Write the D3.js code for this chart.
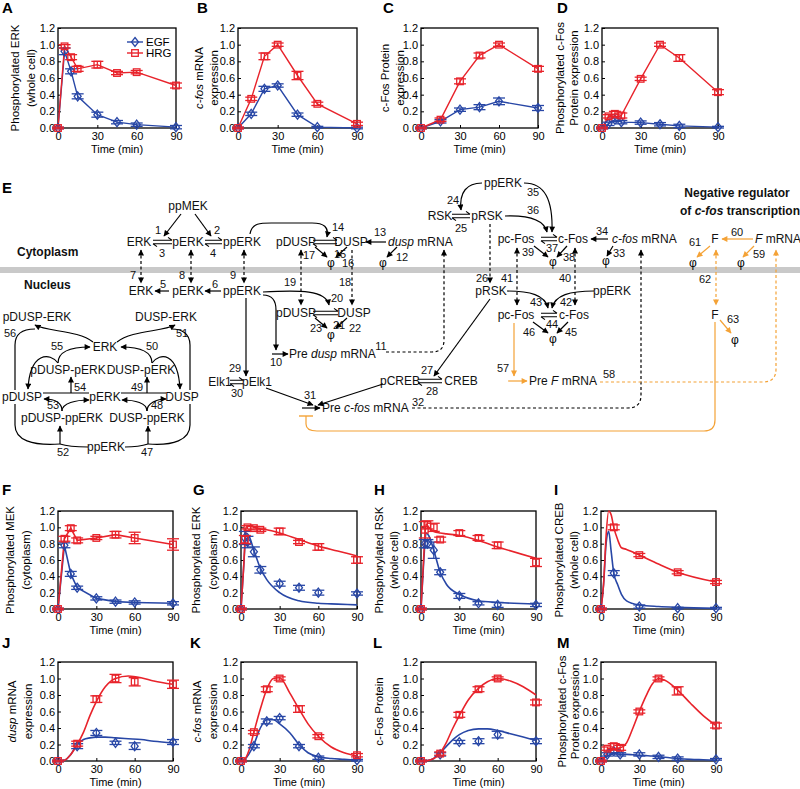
<!DOCTYPE html>
<html><head><meta charset="utf-8">
<script src="https://cdn.jsdelivr.net/npm/d3@7"></script>
<style>body{margin:0;background:#fff} svg{display:block} text{font-family:"Liberation Sans",Arial,sans-serif}</style>
</head><body><svg id="c" width="800" height="789"></svg>
<script>
// ---------------- DATA ----------------
const seriesNames = ["EGF","HRG"];
const yTickValues = [0,0.2,0.4,0.6,0.8,1.0,1.2];
const xTickValues = [0,30,60,90];

// A: phosphorylated ERK (whole cell)
const timeA = [0,5,10,15,30,45,60,90];
const egfA = [0,0.92,0.68,0.38,0.16,0.07,0.04,0.01];
const hrgA = [0,0.98,0.85,0.71,0.76,0.66,0.67,0.51];
const egfErrA = [0.01,0.04,0.03,0.03,0.03,0.02,0.02,0.02];
const hrgErrA = [0.01,0.02,0.03,0.03,0.04,0.02,0.02,0.03];
// B: c-fos mRNA
const timeB = [0,10,20,30,45,60,90];
const egfB = [0,0.17,0.47,0.51,0.16,0.01,0.0];
const hrgB = [0,0.35,0.86,1.0,0.63,0.29,0.05];
const egfErrB = [0.01,0.02,0.03,0.02,0.02,0.01,0.01];
const hrgErrB = [0.01,0.02,0.04,0.02,0.05,0.02,0.02];
// C: c-Fos protein
const timeC = [0,15,30,45,60,90];
const egfC = [0,0.08,0.22,0.25,0.32,0.24];
const hrgC = [0,0.10,0.56,0.87,1.0,0.71];
const egfErrC = [0.01,0.02,0.02,0.03,0.04,0.03];
const hrgErrC = [0.01,0.02,0.03,0.03,0.02,0.03];
// D: phosphorylated c-Fos
const timeD = [0,5,10,15,30,45,60,90];
const egfD = [0,0.05,0.10,0.07,0.065,0.045,0.025,0.01];
const hrgD = [0,0.14,0.17,0.15,0.59,1.0,0.84,0.43];
const egfErrD = [0.01,0.02,0.02,0.02,0.02,0.02,0.02,0.01];
const hrgErrD = [0.01,0.02,0.03,0.03,0.02,0.02,0.04,0.03];

// F: phosphorylated MEK (cytoplasm)
const timeF = [0,5,10,15,30,45,60,90];
const egfF = [0,0.78,0.43,0.26,0.13,0.09,0.08,0.07];
const hrgF = [0,0.86,0.99,0.84,0.87,0.91,0.87,0.79];
const egfErrF = [0.01,0.03,0.03,0.02,0.02,0.02,0.02,0.02];
const hrgErrF = [0.01,0.03,0.03,0.03,0.02,0.04,0.07,0.07];
const fitTimeF = [0,5,10,15,30,45,60,90];
const egfFitF = [0,0.78,0.43,0.26,0.13,0.09,0.08,0.07];
const hrgFitF = [0,0.86,0.99,0.84,0.87,0.91,0.87,0.79];
// G: phosphorylated ERK (cytoplasm)
const timeG = [0,3,5,10,15,30,45,60,90];
const egfG = [0,0.87,0.82,0.70,0.48,0.31,0.26,0.20,0.19];
const hrgG = [0,0.85,1.0,0.99,0.97,0.95,0.82,0.76,0.60];
const egfErrG = [0.01,0.08,0.07,0.06,0.04,0.03,0.03,0.03,0.02];
const hrgErrG = [0.01,0.05,0.02,0.02,0.02,0.04,0.02,0.04,0.04];
const fitTimeG = [0,2,4,6,10,15,20,30,45,60,75,90];
const egfFitG = [0,0.5,0.93,0.9,0.72,0.5,0.36,0.2,0.1,0.07,0.06,0.05];
const hrgFitG = [0,0.5,1.0,1.02,1.0,0.98,0.97,0.93,0.85,0.77,0.71,0.65];
// H: phosphorylated RSK (whole cell)
const timeH = [0,3,5,10,15,30,45,60,90];
const egfH = [0,0.80,0.80,0.72,0.45,0.16,0.07,0.05,0.05];
const hrgH = [0,0.97,1.03,1.0,0.85,0.93,0.87,0.78,0.57];
const egfErrH = [0.01,0.05,0.05,0.1,0.03,0.03,0.02,0.03,0.02];
const hrgErrH = [0.01,0.1,0.05,0.05,0.03,0.03,0.03,0.04,0.05];
const fitTimeH = [0,2,4,6,10,15,20,30,45,60,90];
const egfFitH = [0,0.55,0.93,0.9,0.72,0.45,0.3,0.18,0.1,0.08,0.06];
const hrgFitH = [0,0.6,1.04,1.0,0.95,0.93,0.92,0.9,0.84,0.76,0.62];
// I: phosphorylated CREB (whole cell)
const timeI = [0,10,30,60,90];
const egfI = [0,0.44,0.03,0.01,0.01];
const hrgI = [0,1.0,0.66,0.45,0.33];
const egfErrI = [0.01,0.03,0.02,0.01,0.01];
const hrgErrI = [0.01,0.03,0.02,0.02,0.02];
const fitTimeI = [0,2,4,6,8,10,13,16,20,30,45,60,90];
const egfFitI = [0,0.3,0.8,0.95,0.7,0.44,0.3,0.18,0.1,0.05,0.03,0.02,0.01];
const hrgFitI = [0,0.3,0.9,1.2,1.15,1.0,0.85,0.75,0.73,0.66,0.55,0.45,0.33];
// J: dusp mRNA
const timeJ = [0,15,30,45,60,90];
const egfJ = [0,0.18,0.34,0.22,0.18,0.23];
const hrgJ = [0,0.21,0.75,1.0,0.96,0.93];
const egfErrJ = [0.01,0.03,0.03,0.02,0.04,0.03];
const hrgErrJ = [0.01,0.03,0.04,0.05,0.05,0.05];
const fitTimeJ = [0,5,10,15,20,25,30,37,45,55,65,75,90];
const egfFitJ = [0,0.01,0.08,0.2,0.26,0.28,0.29,0.29,0.28,0.27,0.26,0.24,0.22];
const hrgFitJ = [0,0.01,0.08,0.2,0.35,0.55,0.72,0.9,1.0,1.03,1.01,0.97,0.93];
// K: c-fos mRNA
const timeK = [0,10,20,30,45,60,90];
const egfK = [0,0.18,0.48,0.52,0.18,0.04,0.01];
const hrgK = [0,0.35,0.87,1.0,0.63,0.30,0.07];
const egfErrK = [0.01,0.02,0.03,0.02,0.02,0.02,0.01];
const hrgErrK = [0.01,0.02,0.03,0.02,0.04,0.02,0.02];
const fitTimeK = [0,3,6,10,15,20,25,30,38,45,52,60,70,80,90];
const egfFitK = [0,0.02,0.08,0.2,0.4,0.5,0.5,0.45,0.34,0.2,0.1,0.05,0.03,0.02,0.01];
const hrgFitK = [0,0.02,0.12,0.35,0.63,0.87,1.0,1.01,0.82,0.63,0.45,0.3,0.17,0.1,0.06];
// L: c-Fos protein
const timeL = [0,15,30,45,60,90];
const egfL = [0,0.08,0.23,0.24,0.32,0.24];
const hrgL = [0,0.09,0.56,0.87,1.0,0.71];
const egfErrL = [0.01,0.02,0.02,0.03,0.04,0.03];
const hrgErrL = [0.01,0.02,0.03,0.03,0.02,0.03];
const fitTimeL = [0,5,10,15,20,25,30,37,45,52,60,70,80,90];
const egfFitL = [0,0.005,0.03,0.1,0.18,0.26,0.32,0.37,0.39,0.39,0.37,0.33,0.29,0.25];
const hrgFitL = [0,0.005,0.03,0.1,0.23,0.4,0.55,0.74,0.88,0.96,1.0,0.97,0.9,0.8];
// M: phosphorylated c-Fos
const timeM = [0,5,10,15,30,45,60,90];
const egfM = [0,0.08,0.12,0.08,0.08,0.05,0.03,0.02];
const hrgM = [0,0.15,0.18,0.16,0.60,1.0,0.85,0.43];
const egfErrM = [0.01,0.02,0.02,0.02,0.02,0.02,0.02,0.01];
const hrgErrM = [0.01,0.02,0.03,0.03,0.02,0.02,0.05,0.03];
const fitTimeM = [0,3,6,10,15,20,25,30,35,40,45,50,60,70,80,90];
const egfFitM = [0,0.04,0.07,0.09,0.08,0.08,0.075,0.07,0.065,0.06,0.05,0.045,0.03,0.02,0.015,0.01];
const hrgFitM = [0,0.05,0.12,0.15,0.16,0.22,0.4,0.6,0.78,0.93,1.0,0.98,0.86,0.7,0.55,0.43];

// ---------------- STYLE ----------------
const BLUE = "#2847a6", RED = "#e8232b", ORANGE = "#f4a236";
const svg = d3.select("#c");
const defs = svg.append("defs");
function mk(id, col) {
  defs.append("marker").attr("id", id).attr("viewBox", "0 0 10 10").attr("refX", 9).attr("refY", 5)
    .attr("markerUnits", "userSpaceOnUse").attr("markerWidth", 7).attr("markerHeight", 6)
    .attr("orient", "auto-start-reverse")
    .append("path").attr("d", "M0,0 L10,5 L0,10 z").attr("fill", col);
}
mk("ah", "#000"); mk("ao", ORANGE);

function seg(sel, parts) {
  if (typeof parts === "string") { sel.text(parts); return; }
  parts.forEach(p => sel.append("tspan").attr("font-style", p.i ? "italic" : null).text(p.t));
}

// ---------------- PANELS ----------------
const panels = [
  {L:"A",lx:2,ly:13,x0:58,x1:176,y0:28,y1:128,yl:["Phosphorylated ERK","(whole cell)"],ylx:[15,31],t:timeA,e:egfA,h:hrgA,ee:egfErrA,he:hrgErrA,legend:true},
  {L:"B",lx:197,ly:13,x0:238,x1:357,y0:28,y1:128,yl:[[{t:"c-fos",i:1},{t:" mRNA"}],"expression"],ylx:[199,214],t:timeB,e:egfB,h:hrgB,ee:egfErrB,he:hrgErrB},
  {L:"C",lx:383,ly:13,x0:421,x1:538,y0:28,y1:128,yl:["c-Fos Protein","expression"],ylx:[385,400],t:timeC,e:egfC,h:hrgC,ee:egfErrC,he:hrgErrC},
  {L:"D",lx:557,ly:13,x0:602,x1:718,y0:28,y1:128,yl:["Phosphorylated c-Fos","Protein expression"],ylx:[560,574],t:timeD,e:egfD,h:hrgD,ee:egfErrD,he:hrgErrD},
  {L:"F",lx:2,ly:495,x0:58,x1:173,y0:511,y1:609,yl:["Phosphorylated MEK","(cytoplasm)"],ylx:[10,26],t:timeF,e:egfF,h:hrgF,ee:egfErrF,he:hrgErrF,ft:fitTimeF,fe:egfFitF,fh:hrgFitF,lin:true},
  {L:"G",lx:193,ly:495,x0:241,x1:357,y0:511,y1:609,yl:["Phosphorylated ERK","(cytoplasm)"],ylx:[196,213],t:timeG,e:egfG,h:hrgG,ee:egfErrG,he:hrgErrG,ft:fitTimeG,fe:egfFitG,fh:hrgFitG},
  {L:"H",lx:374,ly:495,x0:421,x1:536,y0:511,y1:609,yl:["Phosphorylated RSK","(whole cell)"],ylx:[379,394],t:timeH,e:egfH,h:hrgH,ee:egfErrH,he:hrgErrH,ft:fitTimeH,fe:egfFitH,fh:hrgFitH},
  {L:"I",lx:554,ly:495,x0:601,x1:716,y0:511,y1:609,yl:["Phosphorylated CREB","(whole cell)"],ylx:[559,574],t:timeI,e:egfI,h:hrgI,ee:egfErrI,he:hrgErrI,ft:fitTimeI,fe:egfFitI,fh:hrgFitI},
  {L:"J",lx:2,ly:648,x0:58,x1:173,y0:662,y1:761,yl:[[{t:"dusp",i:1},{t:" mRNA"}],"expression"],ylx:[12,28],t:timeJ,e:egfJ,h:hrgJ,ee:egfErrJ,he:hrgErrJ,ft:fitTimeJ,fe:egfFitJ,fh:hrgFitJ},
  {L:"K",lx:190,ly:648,x0:241,x1:357,y0:662,y1:761,yl:[[{t:"c-fos",i:1},{t:" mRNA"}],"expression"],ylx:[197,213],t:timeK,e:egfK,h:hrgK,ee:egfErrK,he:hrgErrK,ft:fitTimeK,fe:egfFitK,fh:hrgFitK},
  {L:"L",lx:373,ly:648,x0:421,x1:536,y0:662,y1:761,yl:["c-Fos Protein","expression"],ylx:[379,395],t:timeL,e:egfL,h:hrgL,ee:egfErrL,he:hrgErrL,ft:fitTimeL,fe:egfFitL,fh:hrgFitL},
  {L:"M",lx:557,ly:648,x0:601,x1:716,y0:662,y1:761,yl:["Phosphorylated c-Fos","Protein expression"],ylx:[562,575],t:timeM,e:egfM,h:hrgM,ee:egfErrM,he:hrgErrM,ft:fitTimeM,fe:egfFitM,fh:hrgFitM}
];

function marker(g, cx, cy, kind, col) {
  if (kind === "d") g.append("path").attr("d", `M${cx},${cy-4.5}L${cx+3.5},${cy}L${cx},${cy+4.5}L${cx-3.5},${cy}Z`)
    .attr("fill", "none").attr("stroke", col).attr("stroke-width", 1.3);
  else g.append("rect").attr("x", cx-3.3).attr("y", cy-3.3).attr("width", 6.6).attr("height", 6.6)
    .attr("fill", "none").attr("stroke", col).attr("stroke-width", 1.3);
}

panels.forEach(p => {
  const x = d3.scaleLinear().domain([0,90]).range([p.x0,p.x1]);
  const y = d3.scaleLinear().domain([0,1.2]).range([p.y1,p.y0]);
  const g = svg.append("g");
  svg.append("text").attr("x", p.lx).attr("y", p.ly).attr("font-size", 15).attr("font-weight", "bold").text(p.L);
  const ya = g.append("g").attr("transform", `translate(${p.x0},0)`)
    .call(d3.axisLeft(y).tickValues(yTickValues).tickFormat(d3.format(".1f")).tickSize(-3).tickPadding(3));
  const xa = g.append("g").attr("transform", `translate(0,${p.y1})`)
    .call(d3.axisBottom(x).tickValues(xTickValues).tickSize(-3).tickPadding(4));
  [ya, xa].forEach(a => { a.select(".domain").remove(); a.selectAll("text").attr("font-size", 11).attr("fill", "#000")
    .attr("font-family", '"Liberation Sans",Arial,sans-serif'); a.selectAll("line").attr("stroke", "#000"); });
  g.append("rect").attr("x", p.x0).attr("y", p.y0).attr("width", p.x1-p.x0).attr("height", p.y1-p.y0)
    .attr("fill", "none").attr("stroke", "#000").attr("stroke-width", 1.3);
  g.append("text").attr("x", (p.x0+p.x1)/2).attr("y", p.y1+25).attr("text-anchor", "middle").attr("font-size", 11).text("Time (min)");
  const cy = (p.y0+p.y1)/2;
  p.yl.forEach((lab, i) => {
    const t = g.append("text").attr("transform", `translate(${p.ylx[i]},${cy}) rotate(-90)`).attr("text-anchor", "middle")
      .attr("dominant-baseline", "central").attr("font-size", 11.5);
    seg(t, lab);
  });
  const series = [{v:p.e, err:p.ee, fit:p.fe, col:BLUE, k:"d"}, {v:p.h, err:p.he, fit:p.fh, col:RED, k:"s"}];
  const lineGen = d3.line().x(d => x(d[0])).y(d => y(d[1]));
  series.forEach(s => {
    if (p.ft) {
      lineGen.curve(p.lin ? d3.curveLinear : d3.curveMonotoneX);
      g.append("path").attr("d", lineGen(p.ft.map((t, i) => [t, s.fit[i]]))).attr("fill", "none")
        .attr("stroke", s.col).attr("stroke-width", 1.6);
    } else {
      lineGen.curve(d3.curveLinear);
      g.append("path").attr("d", lineGen(p.t.map((t, i) => [t, s.v[i]]))).attr("fill", "none")
        .attr("stroke", s.col).attr("stroke-width", 1.4);
    }
  });
  series.forEach(s => {
    p.t.forEach((t, i) => {
      const cx = x(t), v = s.v[i], e = s.err[i];
      const ya1 = y(v-e), ya2 = y(v+e);
      g.append("line").attr("x1", cx).attr("x2", cx).attr("y1", ya1).attr("y2", ya2).attr("stroke", s.col).attr("stroke-width", 1.2);
      [ya1, ya2].forEach(yy => g.append("line").attr("x1", cx-6).attr("x2", cx+6).attr("y1", yy).attr("y2", yy)
        .attr("stroke", s.col).attr("stroke-width", 1.3));
      marker(g, cx, y(v), s.k, s.col);
    });
  });
  if (p.legend) {
    seriesNames.forEach((n, i) => {
      const ly = 42 + i*11, col = i ? RED : BLUE;
      g.append("line").attr("x1", 127).attr("x2", 143).attr("y1", ly).attr("y2", ly).attr("stroke", col).attr("stroke-width", 1.4);
      marker(g, 135, ly, i ? "s" : "d", col);
      g.append("text").attr("x", 146).attr("y", ly).attr("dominant-baseline", "central").attr("font-size", 11.5).text(n);
    });
  }
});

// ---------------- DIAGRAM E ----------------
const D = svg.append("g");
svg.append("text").attr("x", 2).attr("y", 193).attr("font-size", 15).attr("font-weight", "bold").text("E");
D.append("rect").attr("x", 0).attr("y", 267).attr("width", 800).attr("height", 6).attr("fill", "#c9c9c9");

function T(x, y, s, o = {}) {
  const t = D.append("text").attr("x", x).attr("y", y).attr("font-size", o.fs || 12)
    .attr("text-anchor", o.a || "middle").attr("dominant-baseline", "central")
    .attr("font-weight", o.b ? "bold" : null).attr("fill", "#111");
  if (o.ff) t.style("font-family", o.ff);
  seg(t, s);
  return t;
}
function N(x, y, s) { return T(x, y, String(s), {fs: 11}); }
function PHI(x, y) { return T(x, y, "\u03c6", {fs: 12}).attr("fill", "#000"); }
function P(d, o = {}) {
  const col = o.c || "#000";
  const pth = D.append("path").attr("d", d).attr("fill", "none").attr("stroke", col).attr("stroke-width", o.w || 1.2);
  if (o.dash) pth.attr("stroke-dasharray", "3,2.5");
  const m = col === ORANGE ? "url(#ao)" : "url(#ah)";
  if (o.end !== false) pth.attr("marker-end", m);
  if (o.start) pth.attr("marker-start", m);
  return pth;
}
function EQ(x1, x2, y) {
  D.append("path").attr("d", `M${x1},${y-1.8}L${x2},${y-1.8}M${x2-4},${y-4.6}L${x2},${y-1.8}` +
    `M${x2},${y+1.8}L${x1},${y+1.8}M${x1+4},${y+4.6}L${x1},${y+1.8}`).attr("fill", "none").attr("stroke", "#000").attr("stroke-width", 1.1);
}

// compartments
T(17, 252, "Cytoplasm", {a: "start", b: 1});
T(24, 285, "Nucleus", {a: "start", b: 1});

// cytoplasm MEK/ERK
T(188, 206, "ppMEK");
T(139, 242, "ERK"); T(188, 242, "pERK"); T(242, 242, "ppERK");
EQ(153, 172, 242); EQ(205, 222, 242);
N(158, 230, 1); N(162, 253, 3); N(217, 230, 2); N(213, 253, 4);
P("M181,214L164,236"); P("M195,214L211,236");
// DUSP cytoplasm
T(296, 242, "pDUSP"); T(351, 242, "DUSP"); EQ(313, 337, 242);
P("M250,234C252,222 262,223 275,223L312,223C324,223 329,227 327,237");
N(338, 227, 14);
T(388, 242, [{t:"dusp", i:1}, {t:" mRNA"}], {a: "start"});
P("M386,242L366,242"); N(380, 232, 13);
PHI(331, 263); PHI(383, 263);
P("M315,247L327,257"); P("M347,247L336,257"); P("M397,247L387,257");
N(309, 255, 17); N(340, 254, 15); N(348, 263, 16); N(402, 257, 12);
// RSK / c-Fos cytoplasm
T(503, 183, "ppERK");
T(440, 216, "RSK"); T(487, 216, "pRSK"); EQ(452, 470, 216);
N(453, 200, 24); N(461, 228, 25); N(533, 192, 35); N(533, 210, 36);
P("M482,183C467,183 459,192 461,210");
P("M524,183C545,183 553,200 552,232");
P("M505,216C530,215 544,220 547,232");
T(516, 239, "pc-Fos"); T(573, 239, "c-Fos"); EQ(541, 557, 239);
T(612, 239, [{t:"c-fos", i:1}, {t:" mRNA"}], {a: "start"});
P("M608,239L591,239"); N(602, 231, 34);
PHI(553, 262); PHI(606, 261);
P("M534,246L548,257"); P("M567,246L557,257"); P("M613,246L607,256");
N(528, 252, 39); N(552, 248, 37); N(569, 257, 38); N(619, 253, 33);
// negative regulator
T(737, 193, "Negative regulator", {b: 1});
T(740, 211, [{t:"of "}, {t:"c-fos", i:1}, {t:" transcription"}], {b: 1});
T(715, 239, "F");
T(755, 239, [{t:"F", i:1}, {t:" mRNA"}], {a: "start"});
P("M753,239L722,239", {c: ORANGE}); N(737, 232, 60);
PHI(693, 263); PHI(741, 263);
P("M710,246L697,257", {c: ORANGE}); P("M754,246L743,257", {c: ORANGE});
N(695, 242, 61); N(759, 254, 59);

// translocation (dashed)
P("M141,250L141,283", {dash: 1, start: 1}); N(133, 275, 7);
P("M191,250L191,283", {dash: 1, start: 1}); N(182, 275, 8);
P("M244,250L244,283", {dash: 1, start: 1}); N(233, 275, 9);
P("M301,250L301,305", {dash: 1, start: 1}); N(290, 282, 19);
P("M352,250L352,305", {dash: 1}); N(345, 282, 18);
P("M490,224L490,283", {dash: 1}); N(482, 278, 26);
P("M517,248L517,305", {dash: 1, start: 1}); N(507, 278, 41);
P("M575,248L575,305", {dash: 1, start: 1}); N(565, 278, 40);
P("M716,250L716,305", {dash: 1, start: 1, c: ORANGE}); N(705, 279, 62);
P("M386,352L432,352Q444,352 444,340L444,250", {dash: 1}); N(381, 346, 11);
P("M412,408L628,408Q641,408 641,395L641,250", {dash: 1}); N(418, 402, 32);
P("M600,382L763,382Q776,382 776,369L776,250", {dash: 1, c: ORANGE}); N(609, 374, 58);

// nucleus ERK
T(141, 291, "ERK"); T(188, 291, "pERK"); T(242, 291, "ppERK");
P("M169,291L155,291"); P("M221,291L205,291");
N(163, 284, 5); N(215, 284, 6);
// nuclear DUSP
T(296, 313, "pDUSP"); T(354, 313, "DUSP"); EQ(313, 338, 313);
P("M263,292C300,290 326,290 329,305"); N(337, 298, 20);
N(339, 325, 21); N(316, 328, 23); N(355, 328, 22);
PHI(331, 335);
P("M315,318L327,328"); P("M347,318L336,328");
P("M263,295C272,295 276,300 276,310L276,350");
P("M272,354L288,354"); N(276, 362, 10);
T(289, 354, [{t:"Pre "}, {t:"dusp", i:1}, {t:" mRNA"}], {a: "start"});
// Elk1 / CREB
P("M246,298L246,376"); N(235, 368, 29);
T(220, 382, "Elk1"); T(257, 382, "pElk1"); EQ(230, 243, 382); N(237, 393, 30);
P("M266,388L313,405"); N(310, 395, 31);
T(400, 381, "pCREB"); T(461, 381, "CREB"); EQ(418, 442, 381);
N(427, 370, 27); N(432, 391, 28);
P("M383,384L318,405");
P("M302,408L320,408");
T(322, 408, [{t:"Pre "}, {t:"c-fos", i:1}, {t:" mRNA"}], {a: "start"});
// nuclear RSK / c-Fos
T(491, 291, "pRSK"); T(612, 291, "ppERK");
P("M490,299L434,376"); 
P("M507,291C530,291 545,295 548,308"); P("M594,291C570,291 555,295 552,308");
N(536, 302, 43); N(566, 302, 42);
T(516, 315, "pc-Fos"); T(574, 315, "c-Fos"); EQ(541, 557, 315);
N(552, 324, 44); N(529, 332, 46); N(571, 332, 45);
PHI(553, 339);
P("M533,322L548,333"); P("M568,322L557,333");
P("M514,323L514,376", {c: ORANGE}); N(503, 368, 57);
P("M508,381L527,381", {c: ORANGE});
T(529, 381, [{t:"Pre "}, {t:"F", i:1}, {t:" mRNA"}], {a: "start"});
T(715, 315, "F"); P("M720,320L731,333", {c: ORANGE}); N(733, 319, 63); PHI(735, 340);
P("M715,322L715,420Q715,431 704,431L317,431Q306,431 306,424L306,416", {c: ORANGE, end: false});
D.append("path").attr("d", "M299,416L313,416").attr("stroke", ORANGE).attr("stroke-width", 1.4);

// ERK-DUSP binding network
T(37, 317, "pDUSP-ERK"); T(166, 317, "DUSP-ERK");
T(105, 347, "ERK");
T(68, 370, "pDUSP-pERK"); T(141, 370, "DUSP-pERK");
T(22, 397, "pDUSP"); T(105, 397, "pERK"); T(182, 397, "DUSP");
T(62, 418, "pDUSP-ppERK"); T(147, 418, "DUSP-ppERK");
T(106, 447, "ppERK");
N(10, 333, 56); N(182, 333, 51); N(57, 346, 55); N(152, 346, 50);
N(80, 387, 54); N(137, 387, 49); N(53, 405, 53); N(157, 405, 48);
N(63, 452, 52); N(147, 452, 47);
// 56 / 51
P("M93,342C78,330 48,332 35,325");
P("M15,390L15,345C15,333 24,329 35,329", {end: false});
P("M117,342C132,330 162,332 175,325");
P("M190,390L190,345C190,333 181,329 172,329", {end: false});
// 55 / 50
P("M58,363C58,352 70,347 90,347");
P("M58,363C50,352 30,352 28,389");
P("M152,363C152,352 140,347 121,347");
P("M152,363C160,352 178,352 180,389");
// 54 / 49
P("M43,393L89,393", {end: false}); P("M71,393L71,377");
P("M121,393L166,393", {end: false}); P("M147,393L147,377");
// 53 / 48
P("M62,411C62,403 55,399 44,399"); P("M62,411C62,403 76,400 89,400");
P("M147,411C147,403 135,400 122,400"); P("M147,411C147,403 157,399 166,399");
// 52 / 47
P("M15,404L15,425C15,440 32,446 60,444", {end: false});
P("M88,447C76,447 66,446 60,444", {end: false});
P("M60,444L60,426");
P("M190,404L190,425C190,440 173,446 148,444", {end: false});
P("M125,447C135,447 142,446 148,444", {end: false});
P("M148,444L148,426");
</script></body></html>
